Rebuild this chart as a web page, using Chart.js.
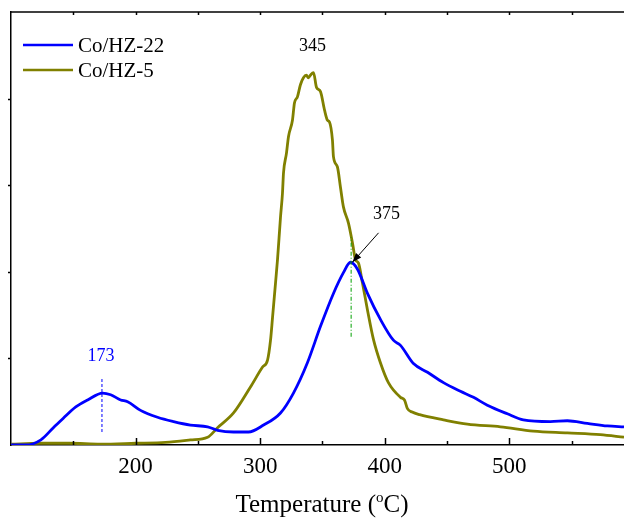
<!DOCTYPE html>
<html><head><meta charset="utf-8">
<script src="https://cdn.jsdelivr.net/npm/chart.js@4.4.0/dist/chart.umd.min.js"></script>
<style>html,body{margin:0;padding:0;background:#fff;}#wrap{width:624px;height:522px;}</style>
</head><body><div id="wrap"><canvas id="c" width="624" height="522"></canvas></div>
<script>
// ---- data ----
const seriesNames = ['Co/HZ-22', 'Co/HZ-5'];
const hz22Temp   = [100, 112, 124, 134, 142, 152, 161.5, 173.5, 180, 188, 193.6, 204, 217.6, 230.5, 244, 257.8, 265.8, 278.6, 290.6, 302.7, 316.3, 326.7, 337.9, 348.4, 358.8, 366.8, 372.5, 378.1, 386.1, 396.5, 406.9, 412.6, 423, 434.3, 447.1, 460.7, 471.2, 482.3, 498.4, 511.2, 532.9, 546.5, 562.6, 578.6, 592];
const hz22Signal = [0, 0, 0.06, 0.2, 0.31, 0.44, 0.52, 0.6, 0.58, 0.52, 0.5, 0.4, 0.32, 0.27, 0.23, 0.21, 0.17, 0.15, 0.15, 0.23, 0.37, 0.6, 0.95, 1.37, 1.75, 1.99, 2.11, 2.03, 1.75, 1.45, 1.21, 1.15, 0.94, 0.84, 0.72, 0.62, 0.55, 0.46, 0.36, 0.29, 0.27, 0.28, 0.25, 0.22, 0.21];
const hz5Temp    = [100, 123, 147, 172, 200, 224, 244, 257.8, 265.8, 278.6, 292.2, 301.9, 305.9, 308.3, 309.9, 312.3, 313.9, 316.3, 317.9, 318.7, 321.1, 322.7, 325.9, 327.5, 329.9, 332.3, 334.7, 337.1, 338.7, 340.3, 342.8, 345.2, 348.4, 351.6, 354, 355.6, 358, 358.8, 362, 364.4, 366.8, 370.9, 374.1, 376.5, 378.9, 382.1, 386.1, 390.9, 396.5, 402.9, 412.6, 415.8, 418.2, 422, 428, 447.1, 466.3, 492.8, 519.2, 546.5, 573, 592];
const hz5Signal  = [0.01, 0.02, 0.02, 0.01, 0.02, 0.03, 0.058, 0.09, 0.2, 0.37, 0.67, 0.9, 0.98, 1.21, 1.47, 1.87, 2.14, 2.63, 2.91, 3.14, 3.37, 3.56, 3.75, 3.95, 4.02, 4.16, 4.24, 4.27, 4.24, 4.27, 4.3, 4.13, 4.08, 3.87, 3.75, 3.73, 3.52, 3.33, 3.21, 2.98, 2.75, 2.56, 2.33, 2.14, 2.1, 1.87, 1.56, 1.22, 0.95, 0.72, 0.55, 0.52, 0.42, 0.38, 0.35, 0.29, 0.24, 0.21, 0.16, 0.14, 0.12, 0.09];
const xTickLabels = [200, 300, 400, 500];
const peakLabels  = ['173', '345', '375'];
const peakTemps   = [173, 342, 373];

const FONT = '"Liberation Serif", "Times New Roman", serif';
const BLUE = '#0000ff', OLIVE = '#808000';

function pts(xs, ys) { return xs.map((x, i) => ({x: x, y: ys[i]})); }

const decor = {
  id: 'decor',
  afterDraw(chart) {
    const ctx = chart.ctx, ca = chart.chartArea;
    const xs = chart.scales.x, ys = chart.scales.y;
    ctx.save();
    ctx.strokeStyle = '#000'; ctx.lineWidth = 1.5;
    // top frame line
    ctx.beginPath(); ctx.moveTo(ca.left, ca.top); ctx.lineTo(ca.right, ca.top); ctx.stroke();
    // x ticks (inward)
    for (let v = 150; v < xs.max; v += 50) {
      const px = Math.round(xs.getPixelForValue(v)) + 0.5;
      const len = (v % 100 === 0) ? 7 : 4;
      ctx.beginPath(); ctx.moveTo(px, ca.bottom); ctx.lineTo(px, ca.bottom - len); ctx.stroke();
      ctx.beginPath(); ctx.moveTo(px, ca.top); ctx.lineTo(px, ca.top + 3); ctx.stroke();
    }
    // y ticks (outward, unlabeled)
    for (let v = 1; v < 5; v++) {
      const py = Math.round(ys.getPixelForValue(v)) + 0.5;
      ctx.beginPath(); ctx.moveTo(ca.left, py); ctx.lineTo(ca.left - 3, py); ctx.stroke();
    }
    // peak markers
    ctx.lineWidth = 1;
    ctx.strokeStyle = BLUE; ctx.setLineDash([3, 2]);
    let px = xs.getPixelForValue(peakTemps[0]);
    ctx.beginPath(); ctx.moveTo(px, ys.getPixelForValue(0.15)); ctx.lineTo(px, ys.getPixelForValue(0.77)); ctx.stroke();
    ctx.strokeStyle = '#00a000'; ctx.setLineDash([4, 2, 1, 2]);
    px = xs.getPixelForValue(peakTemps[2]);
    ctx.beginPath(); ctx.moveTo(px, ys.getPixelForValue(1.25)); ctx.lineTo(px, ys.getPixelForValue(2.4)); ctx.stroke();
    ctx.setLineDash([]);
    // arrow
    const ax0 = xs.getPixelForValue(395), ay0 = ys.getPixelForValue(2.45);
    const ax1 = xs.getPixelForValue(374), ay1 = ys.getPixelForValue(2.11);
    ctx.strokeStyle = '#000'; ctx.fillStyle = '#000'; ctx.lineWidth = 1;
    ctx.beginPath(); ctx.moveTo(ax0, ay0); ctx.lineTo(ax1, ay1); ctx.stroke();
    const ang = Math.atan2(ay1 - ay0, ax1 - ax0);
    ctx.beginPath(); ctx.moveTo(ax1, ay1);
    ctx.lineTo(ax1 - 10 * Math.cos(ang - 0.35), ay1 - 10 * Math.sin(ang - 0.35));
    ctx.lineTo(ax1 - 10 * Math.cos(ang + 0.35), ay1 - 10 * Math.sin(ang + 0.35));
    ctx.closePath(); ctx.fill();
    // peak labels
    ctx.font = '18px ' + FONT; ctx.textAlign = 'center'; ctx.textBaseline = 'middle';
    ctx.fillStyle = BLUE; ctx.fillText(peakLabels[0], xs.getPixelForValue(172.3), ys.getPixelForValue(1.02));
    ctx.fillStyle = '#000'; ctx.fillText(peakLabels[1], xs.getPixelForValue(342), ys.getPixelForValue(4.6));
    ctx.fillText(peakLabels[2], xs.getPixelForValue(401.4), ys.getPixelForValue(2.66));
    // legend
    ctx.font = '21px ' + FONT; ctx.textAlign = 'left';
    chart.data.datasets.forEach((ds, i) => {
      const y = 45 + i * 25;
      ctx.strokeStyle = ds.borderColor; ctx.lineWidth = 2.5;
      ctx.beginPath(); ctx.moveTo(23, y); ctx.lineTo(73, y); ctx.stroke();
      ctx.fillStyle = '#000'; ctx.fillText(ds.label, 78, y + 1);
    });
    // axis title with superscript
    const big = '25px ' + FONT, small = '15px ' + FONT;
    const p1 = 'Temperature (', p2 = 'o', p3 = 'C)';
    ctx.font = big; const w1 = ctx.measureText(p1).width, w3 = ctx.measureText(p3).width;
    ctx.font = small; const w2 = ctx.measureText(p2).width;
    let tx = 322 - (w1 + w2 + w3) / 2; const ty = 512;
    ctx.textBaseline = 'alphabetic'; ctx.fillStyle = '#000';
    ctx.font = big; ctx.fillText(p1, tx, ty); tx += w1;
    ctx.font = small; ctx.fillText(p2, tx, ty - 10); tx += w2;
    ctx.font = big; ctx.fillText(p3, tx, ty);
    ctx.restore();
  }
};

new Chart(document.getElementById('c'), {
  type: 'line',
  data: {
    datasets: [
      {label: seriesNames[0], data: pts(hz22Temp, hz22Signal), borderColor: BLUE, borderWidth: 2.8, pointRadius: 0, cubicInterpolationMode: 'monotone', fill: false},
      {label: seriesNames[1], data: pts(hz5Temp, hz5Signal), borderColor: OLIVE, borderWidth: 2.8, pointRadius: 0, cubicInterpolationMode: 'monotone', fill: false}
    ]
  },
  options: {
    responsive: false, animation: false, devicePixelRatio: 1,
    layout: {padding: {top: 12, right: 0, left: 0, bottom: 0}},
    plugins: {legend: {display: false}, tooltip: {enabled: false}},
    scales: {
      x: {
        type: 'linear', min: 100, max: 592,
        afterFit: s => { s.height = 77; s.paddingLeft = 0; s.paddingRight = 0; },
        grid: {display: false, drawTicks: false},
        border: {display: true, color: '#000', width: 1.5},
        ticks: {stepSize: 50, autoSkip: false, maxRotation: 0, padding: 8, color: '#000',
          font: {family: FONT, size: 23},
          callback: v => xTickLabels.includes(v) ? String(v) : ''}
      },
      y: {
        min: 0, max: 5,
        afterFit: s => { s.width = 11; s.paddingTop = 0; s.paddingBottom = 0; },
        grid: {display: false, drawTicks: false},
        border: {display: true, color: '#000', width: 1.5},
        ticks: {display: false, stepSize: 1}
      }
    }
  },
  plugins: [decor]
});
</script>
</body></html>
